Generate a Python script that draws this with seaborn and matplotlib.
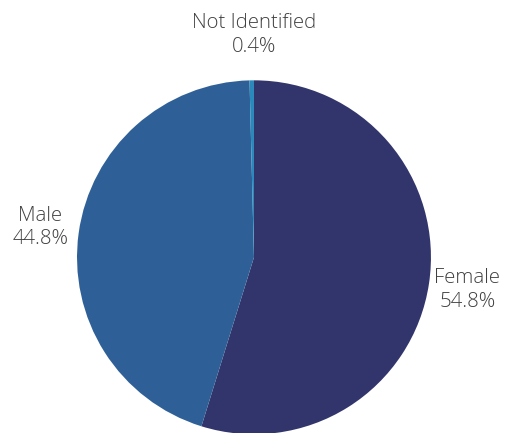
import matplotlib
matplotlib.use("Agg")
import matplotlib.pyplot as plt
import seaborn as sns

categories = ["Female", "Male", "Not Identified"]
values = [54.8, 44.8, 0.4]
label_texts = ["Female\n54.8%", "Male\n44.8%", "Not Identified\n0.4%"]
colors = ["#31356b", "#2e6097", "#2a88bb"]

sns.set_theme(style="white")
plt.rcParams['font.family'] = ['Open Sans', 'DejaVu Sans']

fig = plt.figure(figsize=(5.10, 4.33), dpi=100)
ax = fig.add_axes([0.151, -0.003, 0.694, 0.8176])
wedges, texts = ax.pie(values, labels=label_texts, colors=sns.color_palette(colors),
                       startangle=90, counterclock=False, labeldistance=1.22,
                       textprops=dict(fontsize=14.7, color="#404040", linespacing=1.25,
                                      fontweight="light"),
                       wedgeprops=dict(linewidth=0))
for t in texts:
    t.set_ha("center")
    t.set_va("center")
texts[2].set_position((0.0, 1.255))
ax.set_aspect("equal")
ax.set_xlim(-1, 1)
ax.set_ylim(-1, 1)
fig.savefig("out.png", dpi=100)
